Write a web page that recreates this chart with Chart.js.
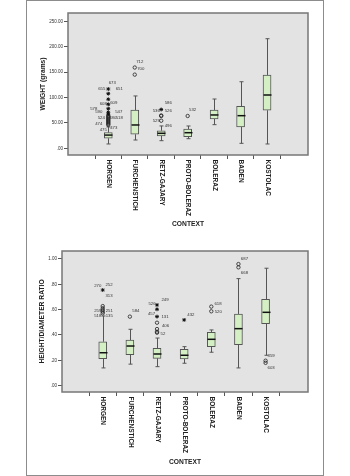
<!DOCTYPE html>
<html>
<head>
<meta charset="utf-8">
<script src="https://cdn.jsdelivr.net/npm/chart.js@4.4.0/dist/chart.umd.min.js"></script>
<style>
  body { margin: 0; background: #fff; }
  #frame { position: absolute; left: 26px; top: 0; width: 298px; height: 476px; box-sizing: border-box; border: 1px solid #8c8c8c; }
  canvas { position: absolute; left: 27px; }
  #chartWeight { top: 1px; }
  #chartRatio { top: 238px; }
</style>
</head>
<body>
<div id="frame"></div>
<canvas id="chartWeight" width="295" height="237"></canvas>
<canvas id="chartRatio" width="295" height="236"></canvas>
<script>
// categories (context)
const categories = ['HORGEN', 'FURCHENSTICH', 'RETZ-GAJARY', 'PROTO-BOLERAZ', 'BOLERAZ', 'BADEN', 'KOSTOLAC'];

// weight (grams) box plot stats
const weightMin    = [8.5, 16.3, 15, 18.9, 46.5, 9.8, 8.5];
const weightQ1     = [19.7, 27.6, 24.2, 22.8, 57.7, 41.9, 74.8];
const weightMedian = [26, 45.9, 29.5, 30.7, 65.6, 64.2, 104.9];
const weightQ3     = [31, 75.4, 34.6, 38, 75.4, 82.7, 144.3];
const weightMax    = [42, 103, 44, 43.9, 97, 131, 215.7];
const weightCircles = [[64, 62, 60, 58, 56, 54, 52, 50, 48, 46], [159, 145], [54.3, 63.6, 64.6], [63.6], [], [], []];
const weightStars   = [[116.7, 107.5, 96.5, 86.6, 78, 70.9, 67], [], [76.4], [], [], [], []];
// case labels: [case id, value of the point it belongs to]
const weightLabels = [
  [[673, 116.7], [655, 116.7], [651, 116.7], [608, 96.5], [609, 96.5], [578, 78], [547, 70.9], [590, 70.9],
   [524, 60], [480, 60], [518, 60], [474, 48], [475, 46], [473, 46]],
  [[712, 159], [700, 159]],
  [[586, 76.4], [536, 76.4], [526, 76.4], [529, 54.3], [496, 54.3]],
  [[532, 63.6]],
  [], [], []
];
const weightTicks = [0, 50, 100, 150, 200, 250];

// height/diameter ratio box plot stats
const ratioMin    = [0.14, 0.17, 0.15, 0.177, 0.264, 0.14, 0.24];
const ratioQ1     = [0.213, 0.245, 0.216, 0.211, 0.308, 0.324, 0.489];
const ratioMedian = [0.26, 0.313, 0.25, 0.24, 0.366, 0.45, 0.579];
const ratioQ3     = [0.347, 0.36, 0.295, 0.287, 0.421, 0.566, 0.682];
const ratioMax    = [0.55, 0.445, 0.376, 0.308, 0.44, 0.845, 0.927];
const ratioCircles = [[0.628, 0.611, 0.597, 0.584, 0.571], [0.545], [0.418, 0.426, 0.447, 0.497], [], [0.624, 0.587], [0.96, 0.934], [0.197, 0.18]];
const ratioStars   = [[0.755], [], [0.545, 0.603, 0.637], [0.519], [], [], []];
const ratioLabels = [
  [[270, 0.755], [252, 0.755], [313, 0.755], [259, 0.597], [251, 0.597], [518, 0.571], [135, 0.571]],
  [[584, 0.545]],
  [[526, 0.637], [249, 0.637], [457, 0.545], [131, 0.545], [406, 0.497], [52, 0.418]],
  [[432, 0.519]],
  [[618, 0.624], [520, 0.587]],
  [[687, 0.96], [668, 0.934]],
  [[359, 0.197], [603, 0.18]]
];
const ratioTicks = [0, 0.2, 0.4, 0.6, 0.8, 1.0];

// where each case label sits relative to its point (px)
const weightNudge = {
  673: [4, -6.5], 655: [-6.5, 0], 651: [11, 0], 608: [-5, 4.4], 609: [5.5, 3.7], 578: [-14.5, 0],
  547: [10.5, 0], 590: [-9.5, 0], 524: [-7, 0], 480: [4.5, 0], 518: [11, 0], 474: [-9.5, 0],
  475: [-5, 5], 473: [5.5, 3.3], 712: [5, -5.5], 700: [6, 1.5], 586: [7, -6.5], 536: [-5, 1.2],
  526: [7, 1.2], 529: [-5, 0], 496: [7, 5.3], 532: [5, -6]
};
const ratioNudge = {
  270: [-5, -4.3], 252: [6.3, -5], 313: [6.3, 5.7], 259: [-5, 1], 251: [6.5, 1], 518: [-5, 2.7],
  135: [6.5, 2.7], 584: [6, -5.7], 526: [-5, -1], 249: [8, -5], 457: [-5.5, -3], 131: [8, 0],
  406: [8.5, 3.3], 52: [6, 1.6], 432: [6.7, -5], 618: [6.7, -2.4], 520: [7, 0.7], 687: [6, -5],
  668: [6, 5.4], 359: [5.5, -4.7], 603: [5.5, 4.6]
};

const FONT = "'Liberation Sans', Arial, sans-serif";
Chart.defaults.font.family = FONT;

function fmt(v) {
  const s = Number(v).toFixed(2);
  return s.startsWith('0') ? s.slice(1) : s;
}

function points(list) {
  const out = [];
  list.forEach((vals, i) => vals.forEach(v => out.push({ x: i, y: v })));
  return out;
}

function makeBoxChart(id, cfg) {
  const boxParts = {
    id: 'boxParts',
    beforeDraw(chart) {
      const { ctx, chartArea: a } = chart;
      ctx.save();
      ctx.fillStyle = '#e3e3e3';
      ctx.fillRect(a.left, a.top, a.right - a.left, a.bottom - a.top);
      ctx.restore();
    },
    beforeDatasetsDraw(chart) {
      const { ctx } = chart;
      const xs = chart.scales.x, ys = chart.scales.y;
      ctx.save();
      ctx.strokeStyle = '#555';
      ctx.lineWidth = 1;
      categories.forEach((c, i) => {
        const x = Math.round(xs.getPixelForValue(i)) + 0.5;
        const yMin = ys.getPixelForValue(cfg.min[i]), yMax = ys.getPixelForValue(cfg.max[i]);
        const y1 = ys.getPixelForValue(cfg.q1[i]), y3 = ys.getPixelForValue(cfg.q3[i]);
        ctx.beginPath();
        ctx.moveTo(x, yMax); ctx.lineTo(x, y3);
        ctx.moveTo(x, y1); ctx.lineTo(x, yMin);
        ctx.moveTo(x - 2, yMax); ctx.lineTo(x + 2, yMax);
        ctx.moveTo(x - 2, yMin); ctx.lineTo(x + 2, yMin);
        ctx.stroke();
      });
      ctx.restore();
    },
    afterDatasetsDraw(chart) {
      const { ctx } = chart;
      const xs = chart.scales.x, ys = chart.scales.y;
      ctx.save();
      ctx.strokeStyle = '#111';
      ctx.lineWidth = 1.5;
      categories.forEach((c, i) => {
        const x = Math.round(xs.getPixelForValue(i)) + 0.5;
        const y = ys.getPixelForValue(cfg.median[i]);
        ctx.beginPath();
        ctx.moveTo(x - 4, y); ctx.lineTo(x + 4, y);
        ctx.stroke();
      });
      ctx.restore();
    },
    afterDraw(chart) {
      const { ctx, chartArea: a } = chart;
      const xs = chart.scales.x, ys = chart.scales.y;
      ctx.save();
      // plot frame
      ctx.strokeStyle = '#777';
      ctx.lineWidth = 1.5;
      ctx.strokeRect(a.left, a.top, a.right - a.left, a.bottom - a.top);
      // case labels
      ctx.fillStyle = '#333';
      ctx.font = '4.3px ' + FONT;
      ctx.textAlign = 'center';
      ctx.textBaseline = 'middle';
      cfg.labels.forEach((list, i) => {
        const x = xs.getPixelForValue(i);
        list.forEach(([caseId, v]) => {
          const n = cfg.nudge[caseId] || [6, 0];
          ctx.fillText(String(caseId), x + n[0], ys.getPixelForValue(v) + n[1]);
        });
      });
      // category labels, rotated clockwise
      ctx.fillStyle = '#222';
      ctx.font = 'bold 6.5px ' + FONT;
      ctx.textAlign = 'left';
      categories.forEach((c, i) => {
        ctx.save();
        ctx.translate(xs.getPixelForValue(i) + 0.5, a.bottom + 4.5);
        ctx.rotate(Math.PI / 2);
        ctx.fillText(c, 0, 0);
        ctx.restore();
      });
      // axis titles
      ctx.font = 'bold 6.7px ' + FONT;
      ctx.textAlign = 'center';
      ctx.fillText('CONTEXT', (a.left + a.right) / 2, cfg.xTitleY);
      ctx.save();
      ctx.translate(cfg.yTitleX, (a.top + a.bottom) / 2);
      ctx.rotate(-Math.PI / 2);
      ctx.fillText(cfg.yTitle, 0, 0);
      ctx.restore();
      ctx.restore();
    }
  };

  return new Chart(document.getElementById(id), {
    type: 'bar',
    data: {
      datasets: [
        {
          type: 'scatter',
          data: points(cfg.stars),
          pointStyle: 'star', pointRadius: 1.9, pointBorderWidth: 1,
          pointBorderColor: '#111', pointBackgroundColor: '#111'
        },
        {
          type: 'scatter',
          data: points(cfg.circles),
          pointStyle: 'circle', pointRadius: 1.7, pointBorderWidth: 0.8,
          pointBorderColor: '#222', pointBackgroundColor: 'rgba(0,0,0,0)'
        },
        {
          type: 'bar',
          data: categories.map((c, i) => ({ x: i, y: [cfg.q1[i], cfg.q3[i]] })),
          backgroundColor: '#d4efc3', borderColor: '#555', borderWidth: 1,
          borderSkipped: false, barThickness: 8
        }
      ]
    },
    options: {
      responsive: false, animation: false,
      layout: { padding: { top: cfg.padTop, right: 14, left: 0, bottom: 0 } },
      plugins: { legend: { display: false }, tooltip: { enabled: false } },
      scales: {
        x: {
          type: 'linear', min: cfg.xMin, max: cfg.xMax,
          afterBuildTicks: s => { s.ticks = categories.map((c, i) => ({ value: i })); },
          afterFit: s => { s.height = cfg.xHeight; },
          ticks: { display: false },
          grid: { drawOnChartArea: false, drawTicks: true, tickLength: 4, color: '#555' },
          border: { display: false }
        },
        y: {
          min: cfg.yMin, max: cfg.yMax,
          afterBuildTicks: s => { s.ticks = cfg.ticks.map(v => ({ value: v })); },
          afterFit: s => { s.width = cfg.yWidth; },
          ticks: { callback: v => fmt(v), font: { size: 4.5 }, color: '#333', padding: 1 },
          grid: { drawOnChartArea: false, drawTicks: true, tickLength: 4, color: '#555' },
          border: { display: false }
        }
      }
    },
    plugins: [boxParts]
  });
}

makeBoxChart('chartWeight', {
  min: weightMin, q1: weightQ1, median: weightMedian, q3: weightQ3, max: weightMax,
  circles: weightCircles, stars: weightStars, labels: weightLabels, nudge: weightNudge, ticks: weightTicks,
  yMin: -13.2, yMax: 266.3, xMin: -0.875, xMax: 6.9,
  padTop: 12, yWidth: 41, xHeight: 83, yTitleX: 16.5, xTitleY: 223, yTitle: 'WEIGHT (grams)'
});

makeBoxChart('chartRatio', {
  min: ratioMin, q1: ratioQ1, median: ratioMedian, q3: ratioQ3, max: ratioMax,
  circles: ratioCircles, stars: ratioStars, labels: ratioLabels, nudge: ratioNudge, ticks: ratioTicks,
  yMin: -0.05, yMax: 1.063, xMin: -0.853, xMax: 6.915,
  padTop: 13, yWidth: 35, xHeight: 82, yTitleX: 15, xTitleY: 224, yTitle: 'HEIGHT/DIAMETER RATIO'
});
</script>
</body>
</html>
